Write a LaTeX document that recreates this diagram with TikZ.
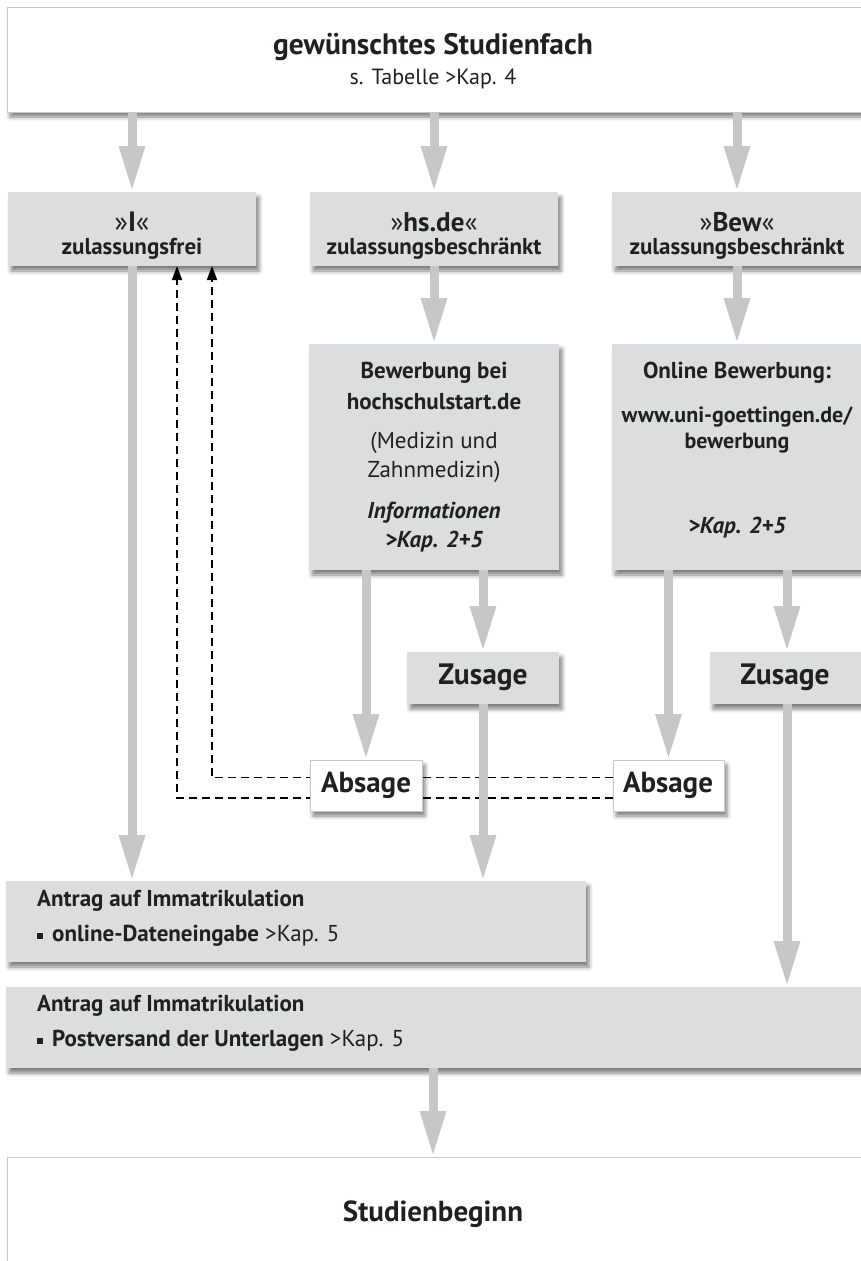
\documentclass[tikz,border=0pt]{standalone}
\usepackage{fontspec}
\setmainfont{PT Sans}
\usetikzlibrary{arrows.meta,shadows.blur,backgrounds}
\definecolor{boxgray}{HTML}{DCDDDF}
\definecolor{arrgray}{HTML}{C6C7C9}
\definecolor{txt}{HTML}{231F20}
\definecolor{bordergray}{HTML}{C8C9CB}
\newcommand{\fs}[1]{\fontsize{#1}{#1}\selectfont}
\newcommand{\bul}{\raisebox{3pt}{\rule{6pt}{6pt}}\hspace{9pt}}
\begin{document}
\begin{tikzpicture}[x=1pt,y=-1pt,
  shadowed/.style={blur shadow={shadow xshift=3pt,shadow yshift=-5pt,shadow blur radius=4pt,shadow opacity=50}},
  graybox/.style={fill=boxgray, shadowed, inner sep=0pt, outer sep=0pt, anchor=north west},
  whitebox/.style={fill=white, draw=bordergray, line width=1pt, shadowed, inner sep=0pt, outer sep=0pt, anchor=north west},
  lbl/.style={text=txt, inner sep=0pt, align=center},
  lleft/.style={text=txt, inner sep=0pt, anchor=west},
  flow/.style={draw=arrgray, line width=9pt, -{Triangle[length=46pt,width=24pt]}},
  back/.style={draw=black, line width=1.8pt, dash pattern=on 8pt off 5pt, -{Triangle[length=14pt,width=10pt]}}
]
\useasboundingbox (0,0) rectangle (860,1261);

% top box
\node[whitebox, minimum width=860pt, minimum height=105pt] (top) at (7,7) {};
\node[lbl, font=\bfseries\fs{29.5}] (t1) at (433,47) {gewünschtes Studienfach};
\node[lbl, font=\fs{22}] (t2) at (433,79) {s. Tabelle >Kap. 4};

% row 2
\node[graybox, minimum width=248pt, minimum height=74pt] (zf) at (8,192) {};
\node[graybox, minimum width=248pt, minimum height=74pt] (hs) at (310,192) {};
\node[graybox, minimum width=250pt, minimum height=74pt] (bw) at (612,192) {};
\node[lbl, font=\bfseries\fs{28}] (zf1) at (132,222) {{\mdseries »}I{\mdseries «}};
\node[lbl, font=\bfseries\fs{23}] (zf2) at (132,249) {zulassungsfrei};
\node[lbl, font=\bfseries\fs{27}] (hs1) at (434,222) {{\mdseries »}hs.de{\mdseries «}};
\node[lbl, font=\bfseries\fs{23}] (hs2) at (434,249) {zulassungsbeschränkt};
\node[lbl, font=\bfseries\fs{27}] (bw1) at (737,222) {{\mdseries »}Bew{\mdseries «}};
\node[lbl, font=\bfseries\fs{23}] (bw2) at (737,249) {zulassungsbeschränkt};

% row 3
\node[graybox, minimum width=250pt, minimum height=226pt] (hsapp) at (309,344) {};
\node[graybox, minimum width=250pt, minimum height=226pt] (bwapp) at (612,344) {};
\node[lbl, font=\bfseries\fs{23}] (ha1) at (434,373) {Bewerbung bei};
\node[lbl, font=\bfseries\fs{23}] (ha2) at (434,402) {hochschulstart.de};
\node[lbl, font=\fs{23}] (ha3) at (434,443) {(Medizin und};
\node[lbl, font=\fs{23}] (ha4) at (434,472) {Zahnmedizin)};
\node[lbl, font=\bfseries\itshape\fs{23}] (ha5) at (434,513) {Informationen};
\node[lbl, font=\bfseries\itshape\fs{23}] (ha6) at (434,542) {>Kap. 2+5};
\node[lbl, font=\bfseries\fs{23}] (ba1) at (737,373) {Online Bewerbung:};
\node[lbl, font=\bfseries\fs{22}] (ba2) at (737,417) {www.uni-goettingen.de/};
\node[lbl, font=\bfseries\fs{22}] (ba3) at (737,443) {bewerbung};
\node[lbl, font=\bfseries\itshape\fs{23}] (ba4) at (737,528) {>Kap. 2+5};

% Zusage / Absage
\node[graybox, minimum width=152pt, minimum height=52pt] (zus1) at (407,652) {};
\node[graybox, minimum width=154pt, minimum height=52pt] (zus2) at (710,652) {};
\node[lbl, font=\bfseries\fs{29.5}] (zus1t) at (483,677) {Zusage};
\node[lbl, font=\bfseries\fs{29.5}] (zus2t) at (785,677) {Zusage};
\node[whitebox, minimum width=112pt, minimum height=51pt] (abs1) at (310,760) {};
\node[whitebox, minimum width=111pt, minimum height=51pt] (abs2) at (613,760) {};
\node[lbl, font=\bfseries\fs{29}] (abs1t) at (366,785) {Absage};
\node[lbl, font=\bfseries\fs{29}] (abs2t) at (668,785) {Absage};

% Antrag boxes
\node[graybox, minimum width=580pt, minimum height=81pt] (a1) at (6,881) {};
\node[graybox, minimum width=860pt, minimum height=81pt] (a2) at (6,987) {};
\node[lleft, font=\bfseries\fs{23}] (a1t1) at (37,901) {Antrag auf Immatrikulation};
\node[lleft, font=\fs{23}] (a1t2) at (37,936) {\bul\textbf{online-Dateneingabe} >Kap. 5};
\node[lleft, font=\bfseries\fs{23}] (a2t1) at (37,1006) {Antrag auf Immatrikulation};
\node[lleft, font=\fs{23}] (a2t2) at (37,1041) {\bul\textbf{Postversand der Unterlagen} >Kap. 5};

% Studienbeginn
\node[whitebox, minimum width=860pt, minimum height=130pt] (sb) at (7,1157) {};
\node[lbl, font=\bfseries\fs{29}] (sbt) at (433,1214) {Studienbeginn};

% gray flow arrows
\draw[flow] (top.south -| zf.north) -- (zf.north);
\draw[flow] (top.south -| hs.north) -- (hs.north);
\draw[flow] (top.south -| bw.north) -- (bw.north);
\draw[flow] (hs.south) -- (hs.south |- hsapp.north);
\draw[flow] (bw.south) -- (bw.south |- bwapp.north);
\draw[flow] (zf.south) -- (zf.south |- a1.north);
\draw[flow] (abs1.north |- hsapp.south) -- (abs1.north);
\draw[flow] (zus1.north |- hsapp.south) -- (zus1.north);
\draw[flow] (zus1.south) -- (zus1.south |- a1.north);
\draw[flow] (abs2.north |- bwapp.south) -- (abs2.north);
\draw[flow] (zus2.north |- bwapp.south) -- (zus2.north);
\draw[flow] (zus2.south) -- (zus2.south |- a2.north);
\draw[flow] ([xshift=-3pt]a2.south) -- ([xshift=-3pt]a2.south |- sb.north);

% dashed back arrows
\begin{scope}[on background layer]
\draw[back] ([yshift=8pt]abs2.west) -| ([xshift=80pt]zf.south);
\draw[back] ([yshift=-12.5pt]abs2.west) -| ([xshift=45pt]zf.south);
\end{scope}
\end{tikzpicture}
\end{document}
